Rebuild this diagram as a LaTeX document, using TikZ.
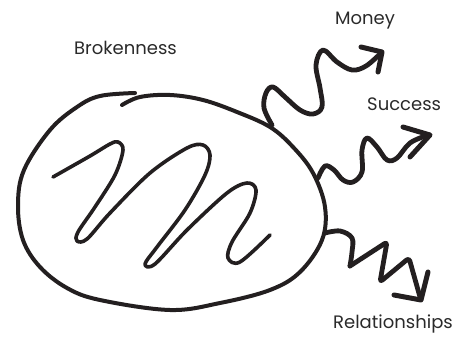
\documentclass[tikz,border=0pt]{standalone}
\usepackage{fontspec}
\setmainfont{Poppins}
\begin{document}
\begin{tikzpicture}[x=1pt,y=-1pt,
  ink/.style={draw=inkc,line cap=round,line join=round},
  blobline/.style={ink,line width=4pt},
  squig/.style={ink,line width=3.6pt},
  wiggle/.style={ink,line width=4.8pt},
  headline/.style={ink,line width=5pt},
  lbl/.style={anchor=base west,inner sep=0pt,text=txtc,font=\fontsize{18}{21}\selectfont}]
\definecolor{inkc}{HTML}{231F20}
\definecolor{txtc}{HTML}{2A2A2A}
\useasboundingbox (0,0) rectangle (463,337);
% blob
\draw[blobline] plot[smooth,tension=0.6] coordinates {(122,105) (140,97) (170,95) (203,100) (237,112) (270,127) (293,147) (313,173) (325,207) (322,240) (300,272) (270,290) (220,303) (170,310) (100,300) (67,288) (40,267) (23,240) (18,205) (24,170) (50,130) (77,107) (100,96) (135,93)};
% inner squiggle
\draw[squig] plot[smooth,tension=0.55] coordinates {(53,177) (90,156) (110,144) (118,142) (123,150) (115,175) (95,207) (78,232) (77,241) (87,239) (110,213) (150,173) (187,148) (203,145) (210,155) (205,175) (185,210) (157,247) (145,264) (155,264) (187,230) (227,193) (247,183) (256,190) (250,213) (232,242) (228,258) (240,262) (270,235)};
% money arrow
\draw[wiggle] plot[smooth,tension=0.6] coordinates {(272,125) (264,108) (266,93) (273,87) (285,97) (300,110) (313,114) (322,107) (320,88) (316,65) (323,50) (337,62) (352,70) (366,66) (381,53)};
\draw[headline] (361,47) -- (382,52) -- (378,72);
% success arrow
\draw[wiggle] plot[smooth,tension=0.6] coordinates {(318,178) (325,166) (334,170) (343,180) (353,182) (362,172) (362,150) (367,138) (377,147) (387,160) (397,158) (410,143) (428,135)};
\draw[headline] (403,127) -- (430,135) -- (410,157);
% relationships arrow
\draw[wiggle] plot[smooth,tension=0.6] coordinates {(325,233) (340,231) (352,238) (352,252) (350,266)};
\draw[wiggle,rounded corners=3pt] (350,266) -- (387,242) -- (380,282) -- (409,258) -- (420,297);
\draw[headline] (394,295) -- (421,300) -- (428,272);
% labels
\node[lbl] (broken) at (74,55) {Brokenness};
\node[lbl] (money) at (335,25) {Money};
\node[lbl] (success) at (367,110) {Success};
\node[lbl] (rel) at (333,328) {Relationships};
\end{tikzpicture}
\end{document}
